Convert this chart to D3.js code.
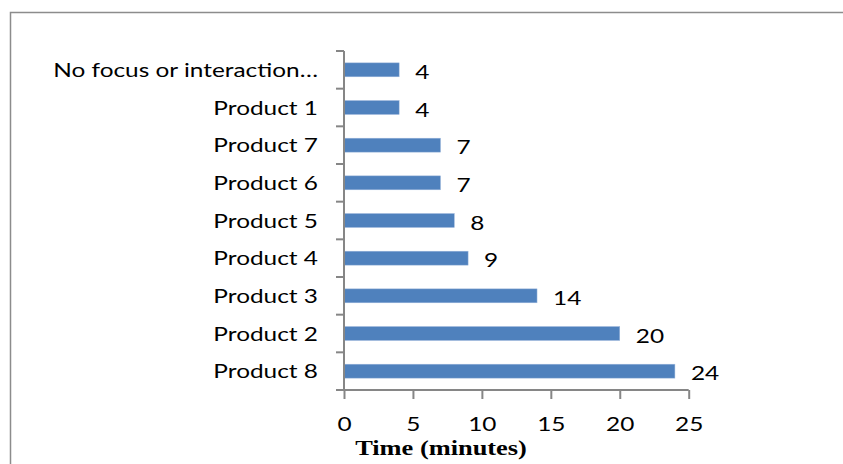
<!DOCTYPE html>
<html>
<head>
<meta charset="utf-8">
<script src="https://cdn.jsdelivr.net/npm/d3@7"></script>
<style>
  body { margin: 0; background: #fff; }
  text { font-family: Lato, sans-serif; fill: #000; }
</style>
</head>
<body>
<div id="chart"></div>
<script>
const categories = ["No focus or interaction…", "Product 1", "Product 7", "Product 6", "Product 5", "Product 4", "Product 3", "Product 2", "Product 8"];
const values = [4, 4, 7, 7, 8, 9, 14, 20, 24];
const xTicks = [0, 5, 10, 15, 20, 25];
const data = categories.map((c, i) => ({ name: c, value: values[i] }));

const width = 843, height = 464;
const margin = { top: 51, left: 344, right: 154, bottom: 74 };
// the source text is drawn wider than the font, so stretch it
const sx = 1.22;

const svg = d3.select("#chart")
    .append("svg")
    .attr("width", width)
    .attr("height", height);

// chart border
svg.append("rect")
    .attr("x", 10.5)
    .attr("y", 12.5)
    .attr("width", 900)
    .attr("height", 600)
    .attr("fill", "none")
    .attr("stroke", "#8c8c8c")
    .attr("stroke-width", 1.5);

const xScale = d3.scaleLinear()
    .domain([0, 25])
    .range([margin.left, width - margin.right - 0.3]);

const yScale = d3.scaleBand()
    .domain(categories)
    .range([margin.top, height - margin.bottom])
    .paddingInner(0.63)
    .paddingOuter(0.315);

const plotBottom = height - margin.bottom;

// bars
svg.selectAll(".bar")
    .data(data)
    .enter()
    .append("rect")
    .attr("class", "bar")
    .attr("x", xScale(0))
    .attr("y", d => yScale(d.name))
    .attr("width", d => xScale(d.value) - xScale(0))
    .attr("height", yScale.bandwidth())
    .attr("fill", "#4f81bd")
    .attr("stroke", "#9db8dc")
    .attr("stroke-width", 0.5);

// value labels
svg.selectAll(".val")
    .data(data)
    .enter()
    .append("text")
    .attr("class", "val")
    .attr("transform", d => `translate(${xScale(d.value) + 16},${yScale(d.name) + yScale.bandwidth() / 2 + 9}) scale(${sx},1)`)
    .style("font-size", "20px")
    .text(d => d.value);

// y axis
const yAxis = svg.append("g")
    .attr("transform", `translate(${margin.left},0)`)
    .call(d3.axisLeft(yScale).tickSize(0).tickPadding(26));
yAxis.select(".domain")
    .attr("stroke", "#868686")
    .attr("stroke-width", 2)
    .attr("d", `M0,${margin.top}V${plotBottom}`);
yAxis.selectAll("text")
    .style("font-size", "20px")
    .attr("x", -26 / sx)
    .attr("transform", `scale(${sx},1)`)
    .attr("dy", "0.35em");

// category separators on y axis
const step = yScale.step();
svg.append("g")
    .selectAll("line")
    .data(d3.range(categories.length + 1))
    .enter()
    .append("line")
    .attr("x1", margin.left - 8)
    .attr("x2", margin.left)
    .attr("y1", i => margin.top + i * step)
    .attr("y2", i => margin.top + i * step)
    .attr("stroke", "#868686")
    .attr("stroke-width", 2);

// x axis
const xAxis = svg.append("g")
    .attr("transform", `translate(0,${plotBottom})`)
    .call(d3.axisBottom(xScale).tickValues(xTicks).tickSize(9).tickPadding(18));
xAxis.select(".domain")
    .attr("stroke", "#868686")
    .attr("stroke-width", 2)
    .attr("d", `M${xScale(0)},0H${xScale(25)}`);
xAxis.selectAll(".tick line")
    .attr("stroke", "#868686")
    .attr("stroke-width", 2);
xAxis.selectAll("text")
    .attr("transform", `scale(${sx},1)`)
    .style("font-size", "20px");

// x axis title
svg.append("text")
    .attr("transform", "translate(441,455) scale(1.2,1)")
    .attr("text-anchor", "middle")
    .style("font-family", "'Liberation Serif', serif")
    .style("font-size", "22px")
    .style("font-weight", "bold")
    .text("Time (minutes)");
</script>
</body>
</html>
